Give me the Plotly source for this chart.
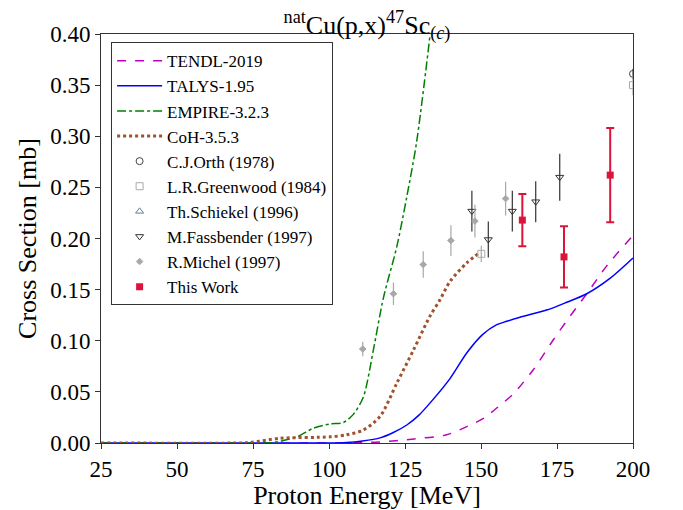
import plotly.graph_objects as go

# ---------------- data ----------------
tendl_e = [25, 100, 116.8, 128, 138.7, 145.3, 150.8, 155.5, 160.6, 167.2, 173.8, 179.3, 184.8, 191.3, 200]
tendl_y = [0, 0, 0.001, 0.004, 0.008, 0.016, 0.024, 0.035, 0.048, 0.0716, 0.101, 0.124, 0.146, 0.173, 0.203]

talys_e = [25, 100, 105.8, 111, 116.8, 121, 125.6, 129.5, 133.2, 139.8, 145.3, 150.5, 155.2, 158.5, 162.8, 171.6, 178.2, 184.8, 192.4, 200]
talys_y = [0, 0, 0.0005, 0.002, 0.005, 0.010, 0.0176, 0.027, 0.039, 0.063, 0.088, 0.106, 0.1157, 0.119, 0.123, 0.130, 0.1376, 0.146, 0.161, 0.181]

empire_e = [25, 75, 81.7, 89.4, 94.8, 100.3, 104.7, 108.0, 111.3, 114.6, 117.9, 122.3, 125.6, 128.8, 133.2]
empire_y = [0, 0, 0.0005, 0.006, 0.0144, 0.0186, 0.020, 0.028, 0.045, 0.091, 0.142, 0.192, 0.241, 0.294, 0.398]

coh_e = [25, 70, 74, 83.9, 100.3, 105.8, 111.3, 116.8, 122.3, 127.8, 133.2, 136.5, 139.8, 145.3, 149.7]
coh_y = [0, 0, 0.0005, 0.0046, 0.006, 0.008, 0.0127, 0.026, 0.0585, 0.091, 0.124, 0.140, 0.158, 0.176, 0.1866]

orth_e = [200]
orth_y = [0.361]
orth_err = [0.005]

greenwood_e = [150.1, 200]
greenwood_y = [0.185, 0.350]
greenwood_err = [0.008, 0.01]

schiekel_e = [230, 260]
schiekel_y = [0.38, 0.39]
schiekel_err = [0.02, 0.02]

fassbender_e = [147.0, 152.4, 160.3, 168.0, 175.9]
fassbender_y = [0.2268, 0.199, 0.2268, 0.236, 0.260]
fassbender_err = [0.020, 0.0176, 0.020, 0.020, 0.023]

michel_e = [111.1, 121.2, 131.0, 140.1, 148.0, 158.1]
michel_y = [0.0919, 0.146, 0.1745, 0.198, 0.217, 0.239]
michel_err = [0.007, 0.011, 0.013, 0.015, 0.016, 0.0166]
michel_xerr = [1.0, 1.0, 1.0, 1.0, 1.0, 1.0]

work_e = [163.6, 177.3, 192.5]
work_y = [0.218, 0.182, 0.262]
work_err = [0.0255, 0.030, 0.046]

FONT = "Liberation Serif"

fig = go.Figure()

def line_trace(e, y, name, color, dash, width):
    return go.Scatter(x=e, y=y, mode="lines", name=name, legendgroup=name,
                      line=dict(color=color, dash=dash, width=width, shape="spline", smoothing=0.8))

fig.add_trace(line_trace(tendl_e, tendl_y, "TENDL-2019", "#bf00bf", "dash", 1.5))
fig.add_trace(line_trace(talys_e, talys_y, "TALYS-1.95", "#0000ff", "solid", 1.5))
fig.add_trace(line_trace(empire_e, empire_y, "EMPIRE-3.2.3", "#008000", "dashdot", 1.5))
fig.add_trace(line_trace(coh_e, coh_y, "CoH-3.5.3", "#a0522d", "dot", 3))

def exp_trace(e, y, err, name, symbol, color, size=7, xerr=None):
    kw = {}
    if xerr is not None:
        kw["error_x"] = dict(type="data", array=xerr, color=color, thickness=1.2, width=0)
    return go.Scatter(x=e, y=y, mode="markers", name=name, legendgroup=name,
                      marker=dict(symbol=symbol, size=size, color=color,
                                  line=dict(color=color, width=1)),
                      error_y=dict(type="data", array=err, color=color, thickness=1.2, width=0),
                      **kw)

fig.add_trace(exp_trace(orth_e, orth_y, orth_err, "C.J.Orth (1978)", "circle-open", "#444444"))
fig.add_trace(exp_trace(greenwood_e, greenwood_y, greenwood_err, "L.R.Greenwood (1984)", "square-open", "#aaaaaa"))
fig.add_trace(exp_trace(schiekel_e, schiekel_y, schiekel_err, "Th.Schiekel (1996)", "triangle-up-open", "#5f7f8a"))
fig.add_trace(exp_trace(fassbender_e, fassbender_y, fassbender_err, "M.Fassbender (1997)", "triangle-down-open", "#333333"))
fig.add_trace(exp_trace(michel_e, michel_y, michel_err, "R.Michel (1997)", "diamond", "#a8a8a8", 5, michel_xerr))

fig.add_trace(go.Scatter(x=work_e, y=work_y, mode="markers", name="This Work", legendgroup="This Work",
                         marker=dict(symbol="square", size=7, color="#dc143c"),
                         error_y=dict(type="data", array=work_err, color="#dc143c", thickness=2, width=4)))

axis_common = dict(showline=True, linecolor="#333333", linewidth=1, mirror=True,
                   ticks="outside", ticklen=5, tickcolor="#333333", showgrid=False, zeroline=False,
                   automargin=False,
                   tickfont=dict(family=FONT, size=23, color="black"))

# page body adds an 8px offset; figure is sized to compensate
fig.update_layout(
    width=675, height=502,
    margin=dict(l=93, r=50, t=26, b=67),
    paper_bgcolor="white", plot_bgcolor="white",
    title=dict(text="<sup>nat</sup>Cu(p,x)<sup>47</sup>Sc<sub>(<i>c</i>)</sub>",
               xref="paper", x=0.5, xanchor="center", y=0.985, yanchor="top",
               font=dict(family=FONT, size=26, color="black")),
    xaxis=dict(range=[25, 200], dtick=25, tick0=25,
               title=dict(text="Proton Energy [MeV]", font=dict(family=FONT, size=26, color="black"), standoff=2),
               **axis_common),
    yaxis=dict(range=[0, 0.4], dtick=0.05, tickformat=".2f",
               title=dict(text="Cross Section [mb]", font=dict(family=FONT, size=26, color="black"), standoff=6),
               **axis_common),
    legend=dict(x=0.019, y=0.98, xanchor="left", yanchor="top",
                bgcolor="white", bordercolor="#333333", borderwidth=1, tracegroupgap=0,
                font=dict(family=FONT, size=17, color="black"), itemwidth=45),
    showlegend=True,
)

fig.write_html("out.html")
